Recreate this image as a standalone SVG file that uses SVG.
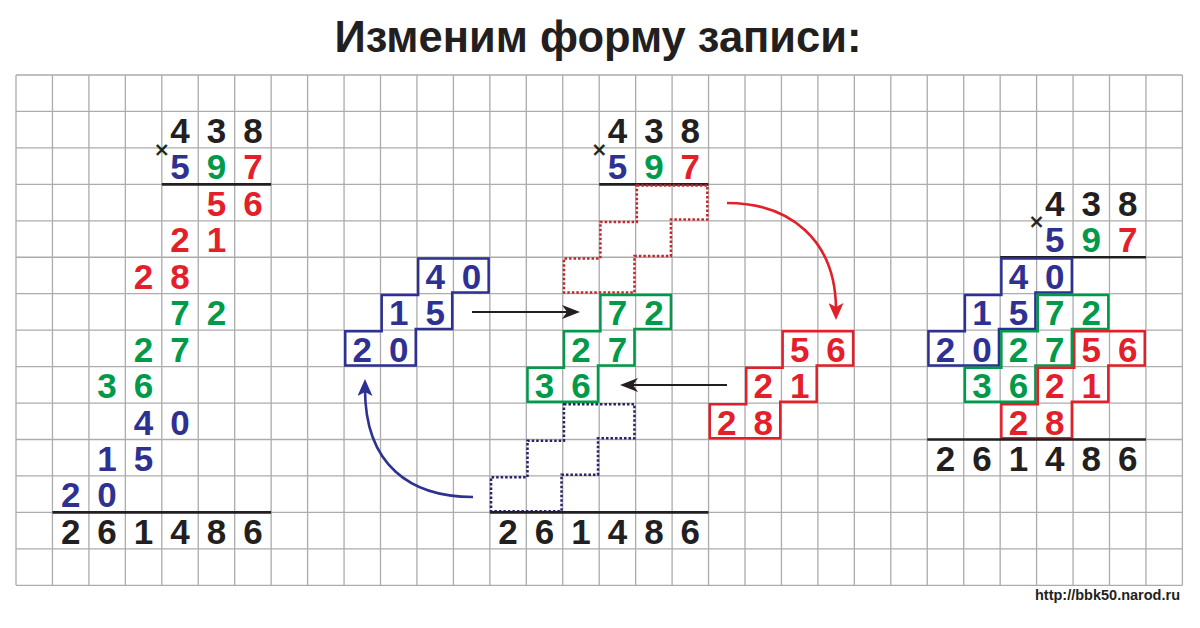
<svg xmlns="http://www.w3.org/2000/svg" xmlns:xlink="http://www.w3.org/1999/xlink" width="1200" height="628" viewBox="0 0 1200 628">
<style>
.grid{stroke:#acacac;stroke-width:1.3;fill:none}
.rule{stroke:#231f20;stroke-width:2.6;fill:none}
.d{font-family:"Liberation Sans",Arial,sans-serif;font-weight:bold;font-size:35px;text-anchor:middle}
.k{fill:#231f20}.b{fill:#2e3192}.g{fill:#009a4a}.r{fill:#e3202a}
.x{font-family:"Liberation Sans",Arial,sans-serif;font-size:24px;text-anchor:middle;fill:#231f20;stroke:#231f20;stroke-width:0.6}
.sb{fill:none;stroke:#2e3192;stroke-width:2.5}
.sg{fill:none;stroke:#009a4a;stroke-width:2.5}
.sr{fill:none;stroke:#e3202a;stroke-width:2.5}
.dr{fill:none;stroke:#c1272d;stroke-width:2.5;stroke-dasharray:2.5 2}
.db{fill:none;stroke:#262366;stroke-width:2.5;stroke-dasharray:2.5 2}
.ak{fill:none;stroke:#231f20;stroke-width:2.2}
.ar{fill:none;stroke:#e3202a;stroke-width:2.6}
.ab{fill:none;stroke:#2e3192;stroke-width:2.6}
</style>
<defs>
<path id="stair" d="M1.2 1.2H71.7V35.25H35.25V71.7H-1.2V108.15H-71.7V74.1H-35.25V37.65H1.2Z"/>
<marker id="mk" viewBox="0 0 18 14" refX="8" refY="7" markerWidth="18" markerHeight="14" markerUnits="userSpaceOnUse" orient="auto"><path d="M0 0L18 7L0 14L5 7Z" fill="#231f20"/></marker>
<marker id="mr" viewBox="0 0 17 15" refX="7" refY="7.5" markerWidth="17" markerHeight="15" markerUnits="userSpaceOnUse" orient="auto"><path d="M0 0L17 7.5L0 15L4 7.5Z" fill="#e3202a"/></marker>
<marker id="mb" viewBox="0 0 17 15" refX="7" refY="7.5" markerWidth="17" markerHeight="15" markerUnits="userSpaceOnUse" orient="auto"><path d="M0 0L17 7.5L0 15L4 7.5Z" fill="#2e3192"/></marker>
</defs>
<rect width="1200" height="628" fill="#ffffff"/>
<text x="598" y="52" font-family="'Liberation Sans',Arial,sans-serif" font-weight="bold" font-size="43.5" text-anchor="middle" fill="#231f20">Изменим форму записи:</text>
<g id="grid">
<path class="grid" d="M16 75V585.3M52.45 75V585.3M88.9 75V585.3M125.35 75V585.3M161.8 75V585.3M198.25 75V585.3M234.7 75V585.3M271.15 75V585.3M307.6 75V585.3M344.05 75V585.3M380.5 75V585.3M416.95 75V585.3M453.4 75V585.3M489.85 75V585.3M526.3 75V585.3M562.75 75V585.3M599.2 75V585.3M635.65 75V585.3M672.1 75V585.3M708.55 75V585.3M745 75V585.3M781.45 75V585.3M817.9 75V585.3M854.35 75V585.3M890.8 75V585.3M927.25 75V585.3M963.7 75V585.3M1000.15 75V585.3M1036.6 75V585.3M1073.05 75V585.3M1109.5 75V585.3M1145.95 75V585.3M1182.4 75V585.3M16 75H1182.4M16 111.45H1182.4M16 147.9H1182.4M16 184.35H1182.4M16 220.8H1182.4M16 257.25H1182.4M16 293.7H1182.4M16 330.15H1182.4M16 366.6H1182.4M16 403.05H1182.4M16 439.5H1182.4M16 475.95H1182.4M16 512.4H1182.4M16 548.85H1182.4M16 585.3H1182.4"/>
</g>
<g id="left">
<text class="x" x="161.8" y="157.5">×</text>
<text class="d k" x="180 216.5 252.9" y="143">438</text>
<text class="d b" x="180" y="179.4">5</text><text class="d g" x="216.5" y="179.4">9</text><text class="d r" x="252.9" y="179.4">7</text>
<path class="rule" d="M161.8 184.35H271.15"/>
<text class="d r" x="216.5 252.9" y="215.85">56</text>
<text class="d r" x="180 216.5" y="252.3">21</text>
<text class="d r" x="143.6 180" y="288.75">28</text>
<text class="d g" x="180 216.5" y="325.2">72</text>
<text class="d g" x="143.6 180" y="361.65">27</text>
<text class="d g" x="107.1 143.6" y="398.1">36</text>
<text class="d b" x="143.6 180" y="434.55">40</text>
<text class="d b" x="107.1 143.6" y="471">15</text>
<text class="d b" x="70.7 107.1" y="507.45">20</text>
<path class="rule" d="M52.45 512.4H271.15"/>
<text class="d k" x="70.7 107.1 143.6 180 216.5 252.9" y="543.9">261486</text>
</g>
<g id="middle">
<text class="x" x="599.2" y="157.5">×</text>
<text class="d k" x="617.4 653.9 690.3" y="143">438</text>
<text class="d b" x="617.4" y="179.4">5</text><text class="d g" x="653.9" y="179.4">9</text><text class="d r" x="690.3" y="179.4">7</text>
<path class="rule" d="M599.2 184.35H708.55"/>
<use xlink:href="#stair" class="dr" x="635.65" y="184.35"/>
<use xlink:href="#stair" class="db" x="562.75" y="403.05"/>
<path class="rule" d="M489.85 512.4H708.55"/>
<text class="d k" x="508.1 544.5 581 617.4 653.9 690.3" y="543.9">261486</text>
</g>
<g id="blue-group">
<use xlink:href="#stair" class="sb" x="416.95" y="257.25"/>
<text class="d b" x="435.2 471.6" y="288.75">40</text>
<text class="d b" x="398.7 435.2" y="325.2">15</text>
<text class="d b" x="362.3 398.7" y="361.65">20</text>
</g>
<g id="green-group">
<use xlink:href="#stair" class="sg" x="599.2" y="293.7"/>
<text class="d g" x="617.4 653.9" y="325.2">72</text>
<text class="d g" x="581 617.4" y="361.65">27</text>
<text class="d g" x="544.5 581" y="398.1">36</text>
</g>
<g id="red-group">
<use xlink:href="#stair" class="sr" x="781.45" y="330.15"/>
<text class="d r" x="799.7 836.1" y="361.65">56</text>
<text class="d r" x="763.2 799.7" y="398.1">21</text>
<text class="d r" x="726.8 763.2" y="434.55">28</text>
</g>
<g id="right">
<text class="x" x="1036.6" y="230.4">×</text>
<text class="d k" x="1054.8 1091.3 1127.7" y="215.85">438</text>
<text class="d b" x="1054.8" y="252.3">5</text><text class="d g" x="1091.3" y="252.3">9</text><text class="d r" x="1127.7" y="252.3">7</text>
<path class="rule" d="M1000.15 257.25H1145.95"/>
<use xlink:href="#stair" class="sb" x="1000.15" y="257.25"/>
<use xlink:href="#stair" class="sg" x="1036.6" y="293.7"/>
<use xlink:href="#stair" class="sr" x="1073.05" y="330.15"/>
<text class="d b" x="1018.4 1054.8" y="288.75">40</text>
<text class="d b" x="981.9 1018.4" y="325.2">15</text>
<text class="d b" x="945.5 981.9" y="361.65">20</text>
<text class="d g" x="1054.8 1091.3" y="325.2">72</text>
<text class="d g" x="1018.4 1054.8" y="361.65">27</text>
<text class="d g" x="981.9 1018.4" y="398.1">36</text>
<text class="d r" x="1091.3 1127.7" y="361.65">56</text>
<text class="d r" x="1054.8 1091.3" y="398.1">21</text>
<text class="d r" x="1018.4 1054.8" y="434.55">28</text>
<path class="rule" d="M927.25 439.5H1145.95"/>
<text class="d k" x="945.5 981.9 1018.4 1054.8 1091.3 1127.7" y="471">261486</text>
</g>
<g id="connectors">
<path class="ak" d="M472 312H570" marker-end="url(#mk)"/>
<path class="ak" d="M727 385H630" marker-end="url(#mk)"/>
<path class="ar" d="M727 203C790 203 836 240 836 310" marker-end="url(#mr)"/>
<path class="ab" d="M473 497C410 497 365 465 365 389" marker-end="url(#mb)"/>
</g>
<text x="1180" y="600" font-family="'Liberation Sans',Arial,sans-serif" font-weight="bold" font-size="14.5" text-anchor="end" fill="#231f20">http://bbk50.narod.ru</text>
</svg>
